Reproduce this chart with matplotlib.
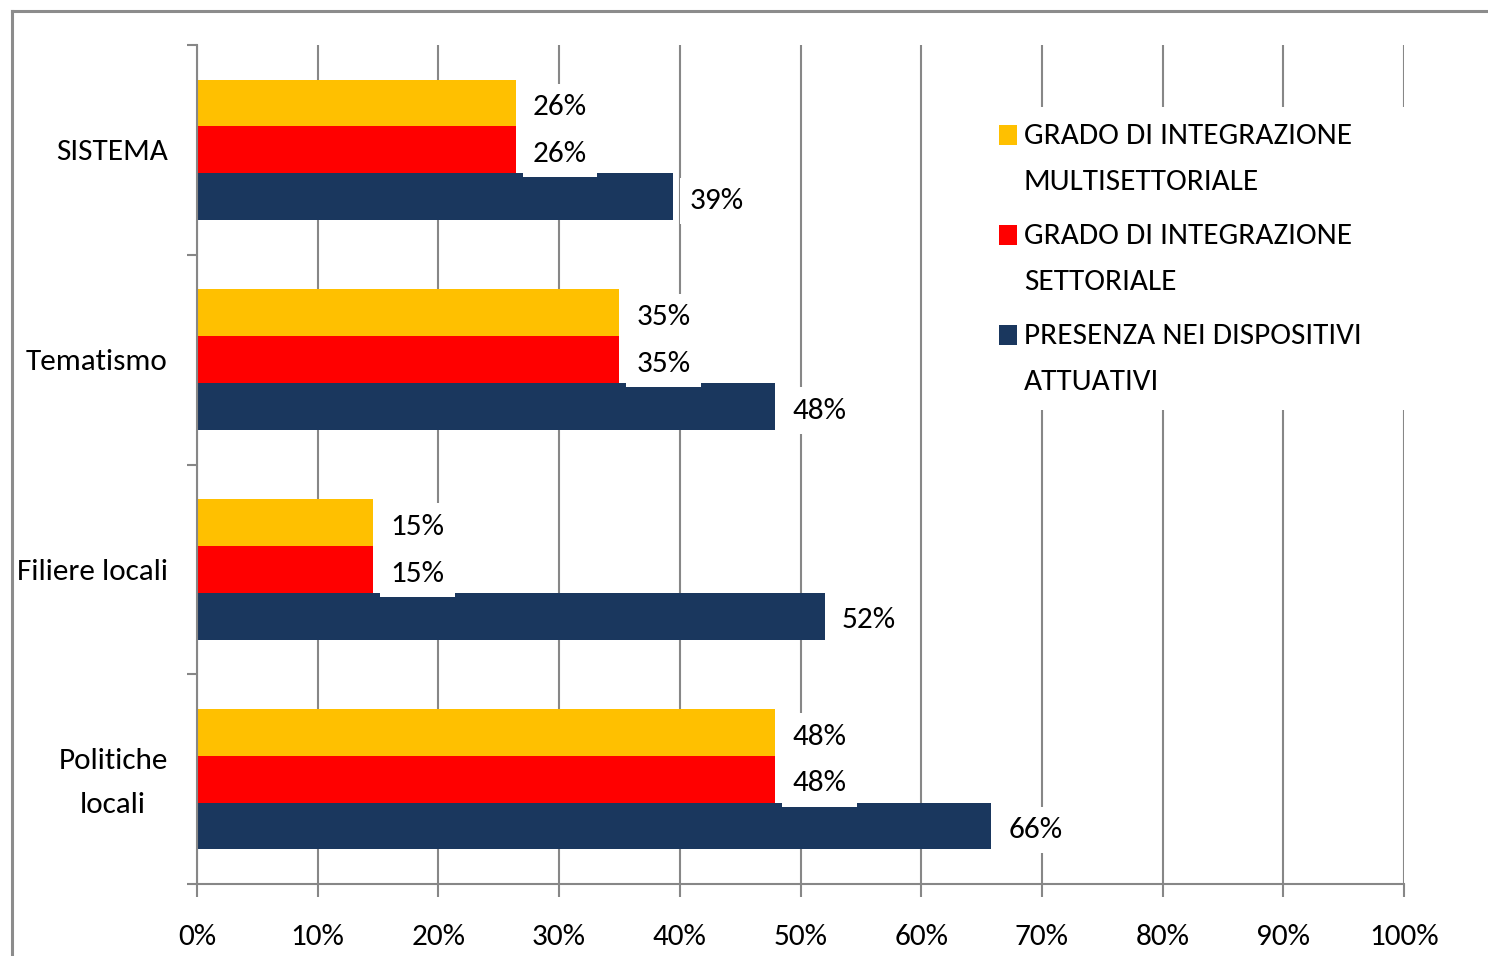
import matplotlib
matplotlib.use("Agg")
import matplotlib.pyplot as plt
from matplotlib.patches import Rectangle
from matplotlib.lines import Line2D
from matplotlib.ticker import FuncFormatter, FixedLocator
import numpy as np

plt.rcParams['font.family'] = ['Carlito', 'Liberation Sans', 'DejaVu Sans']

categories = ["SISTEMA", "Tematismo", "Filiere locali", "Politiche\nlocali"]
series_names = ["GRADO DI INTEGRAZIONE\nMULTISETTORIALE",
                "GRADO DI INTEGRAZIONE\nSETTORIALE",
                "PRESENZA NEI DISPOSITIVI\nATTUATIVI"]
multisettoriale = [26.4, 35.0, 14.6, 47.9]
settoriale = [26.4, 35.0, 14.6, 47.9]
presenza = [39.4, 47.9, 52.0, 65.8]
colors = ["#FFC000", "#FF0000", "#1A375E"]
xticks = [0, 10, 20, 30, 40, 50, 60, 70, 80, 90, 100]

W, H = 1488, 956
fig = plt.figure(figsize=(W / 100, H / 100), dpi=100)
ax = fig.add_axes([197 / W, 1 - 884 / H, (1404 - 197) / W, (884 - 45) / H])

FS = 22.5
grid_c = "#878787"

ypos = np.arange(len(categories))
bh = 0.223
offsets = [-bh, 0, bh]
all_series = [multisettoriale, settoriale, presenza]
for vals, off, col in zip(all_series, offsets, colors):
    bars = ax.barh(ypos + off, vals, height=bh, color=col, edgecolor="none", zorder=2)
    for b, v in zip(bars, vals):
        ax.annotate(f"{v:.0f}%", xy=(b.get_width(), b.get_y() + b.get_height() / 2),
                    xytext=(12.5, -3), textcoords="offset points", ha="left", va="center",
                    fontsize=FS, color="black", zorder=4,
                    bbox=dict(boxstyle="square,pad=0.33", fc="white", ec="none"))

ax.set_xlim(0, 100)
ax.set_ylim(3.5, -0.5)
ax.xaxis.set_major_locator(FixedLocator(xticks))
ax.xaxis.set_major_formatter(FuncFormatter(lambda v, p: f"{v:.0f}%"))
ax.grid(axis="x", color=grid_c, linewidth=1.5, zorder=0)
ax.set_axisbelow(True)

# category label anchor positions (two-line label sits slightly higher)
label_pos = [0, 1, 2, 2.965]
ax.yaxis.set_major_locator(FixedLocator([-0.5, 0.5, 1.5, 2.5, 3.5]))
ax.yaxis.set_major_formatter(FuncFormatter(lambda v, p: ""))
ax.yaxis.set_minor_locator(FixedLocator(label_pos))
ax.set_yticklabels(categories, minor=True, fontsize=FS, multialignment="center", linespacing=1.85)
ax.tick_params(axis="y", which="minor", length=0, pad=21)
ax.tick_params(axis="y", which="major", length=7.5, width=1.5, color=grid_c, direction="out")
ax.tick_params(axis="x", which="major", length=9.5, width=1.5, color=grid_c, direction="out",
               labelsize=FS, pad=19)

for s in ["top", "right"]:
    ax.spines[s].set_visible(False)
for s in ["left", "bottom"]:
    ax.spines[s].set_color(grid_c)
    ax.spines[s].set_linewidth(1.5)

# legend (manual, handles aligned with first line of each label)
def fx(px):
    return (px - 197) / 1207
def fy(py):
    return 1 - (py - 45) / 839

ax.add_patch(Rectangle((fx(990), fy(410)), fx(1412) - fx(990), fy(107) - fy(410),
                       transform=ax.transAxes, fc="white", ec="none", zorder=3, clip_on=False))
first_line_y = [135, 235, 335]
for name, col, py in zip(series_names, colors, first_line_y):
    ax.add_patch(Rectangle((fx(999), fy(py + 10)), fx(1017) - fx(999), fy(py - 10) - fy(py + 10),
                           transform=ax.transAxes, fc=col, ec="none", zorder=4, clip_on=False))
    l1, l2 = name.split("\n")
    ax.text(fx(1024), fy(py - 1), l1, transform=ax.transAxes, fontsize=FS, ha="left",
            va="center_baseline", zorder=5)
    ax.text(fx(1024), fy(py + 44), l2, transform=ax.transAxes, fontsize=FS, ha="left",
            va="center_baseline", zorder=5)

# outer frame (left and top visible)
fc = "#8C8C8C"
fig.add_artist(Line2D([12 / W, 12 / W], [0, 1 - 11 / H], color=fc, linewidth=2.2))
fig.add_artist(Line2D([12 / W, 1], [1 - 11 / H, 1 - 11 / H], color=fc, linewidth=2.2))

fig.savefig("out.png", dpi=100, facecolor="white")
